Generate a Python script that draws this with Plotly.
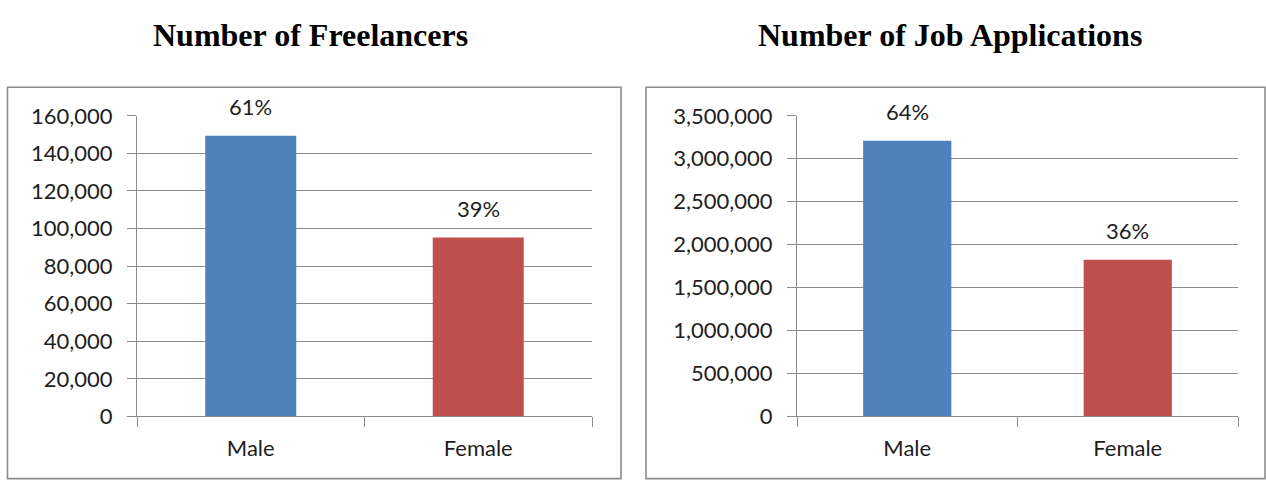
import plotly.graph_objects as go

categories = ["Male", "Female"]
freelancers = [149400, 95200]
applications = [3210000, 1823000]
freelancer_pct = ["61%", "39%"]
application_pct = ["64%", "36%"]
bar_colors = ["#4F81BD", "#C0504D"]
titles = ["Number of Freelancers", "Number of Job Applications"]
y1_ticks = [0, 20000, 40000, 60000, 80000, 100000, 120000, 140000, 160000]
y2_ticks = [0, 500000, 1000000, 1500000, 2000000, 2500000, 3000000, 3500000]

W, H = 1266, 493
def px(x):
    return x / W
def py(y):
    return 1 - y / H

fig = go.Figure()
fig.add_trace(go.Bar(x=categories, y=freelancers, marker_color=bar_colors,
                     marker_line_width=0, width=0.4, xaxis="x", yaxis="y",
                     hoverinfo="skip", showlegend=False))
fig.add_trace(go.Bar(x=categories, y=applications, marker_color=bar_colors,
                     marker_line_width=0, width=0.4, xaxis="x2", yaxis="y2",
                     hoverinfo="skip", showlegend=False))

tickfont = dict(family="Lato, Open Sans, sans-serif", size=22, color="#1E1E1E")
grid = "#8C8C8C"

common_x = dict(type="category", tickson="boundaries", ticks="outside", ticklen=10,
                tickcolor=grid, showline=True, linecolor=grid, linewidth=1,
                showgrid=False, tickfont=tickfont, ticklabelstandoff=12, fixedrange=True)
common_y = dict(ticks="outside", ticklen=9, tickcolor=grid, showline=True, linecolor=grid,
                linewidth=1, showgrid=True, gridcolor=grid, gridwidth=1, zeroline=False,
                tickfont=tickfont, tickformat=",d", ticklabelstandoff=10, fixedrange=True)

fig.update_layout(
    width=W, height=H, margin=dict(l=0, r=0, t=0, b=0),
    paper_bgcolor="white", plot_bgcolor="white", bargap=0.6,
    xaxis=dict(domain=[px(137), px(592)], anchor="y", **common_x),
    yaxis=dict(domain=[py(425.7), py(107.7)], anchor="x", range=[0, 160000],
               tickvals=y1_ticks, **common_y),
    xaxis2=dict(domain=[px(797), px(1238)], anchor="y2", **common_x),
    yaxis2=dict(domain=[py(425.7), py(107.7)], anchor="x2", range=[0, 3500000],
                tickvals=y2_ticks, **common_y),
)

for cat, v, t in zip(categories, freelancers, freelancer_pct):
    fig.add_annotation(x=cat, y=v, xref="x", yref="y", text=t, showarrow=False,
                       yanchor="bottom", yshift=14, font=tickfont)
for cat, v, t in zip(categories, applications, application_pct):
    fig.add_annotation(x=cat, y=v, xref="x2", yref="y2", text=t, showarrow=False,
                       yanchor="bottom", yshift=14, font=tickfont)

title_font = dict(family="Liberation Serif, Times New Roman, serif", size=32, color="black")
fig.add_annotation(x=px(310), y=py(22), xref="paper", yref="paper", text="<b>" + titles[0] + "</b>",
                   showarrow=False, font=title_font, xanchor="center", yanchor="middle")
fig.add_annotation(x=px(950), y=py(22), xref="paper", yref="paper", text="<b>" + titles[1] + "</b>",
                   showarrow=False, font=title_font, xanchor="center", yanchor="middle")

for x0, x1 in [(7.5, 621), (646, 1265)]:
    fig.add_shape(type="rect", xref="paper", yref="paper", x0=px(x0), x1=px(x1),
                  y0=py(491.5), y1=py(77.5), line=dict(color="#8C8C8C", width=1.6),
                  fillcolor="rgba(0,0,0,0)", layer="below")

fig.write_html("out.html", config={"displayModeBar": False},
               post_script="document.body.style.margin='0';document.body.style.overflow='hidden';")
